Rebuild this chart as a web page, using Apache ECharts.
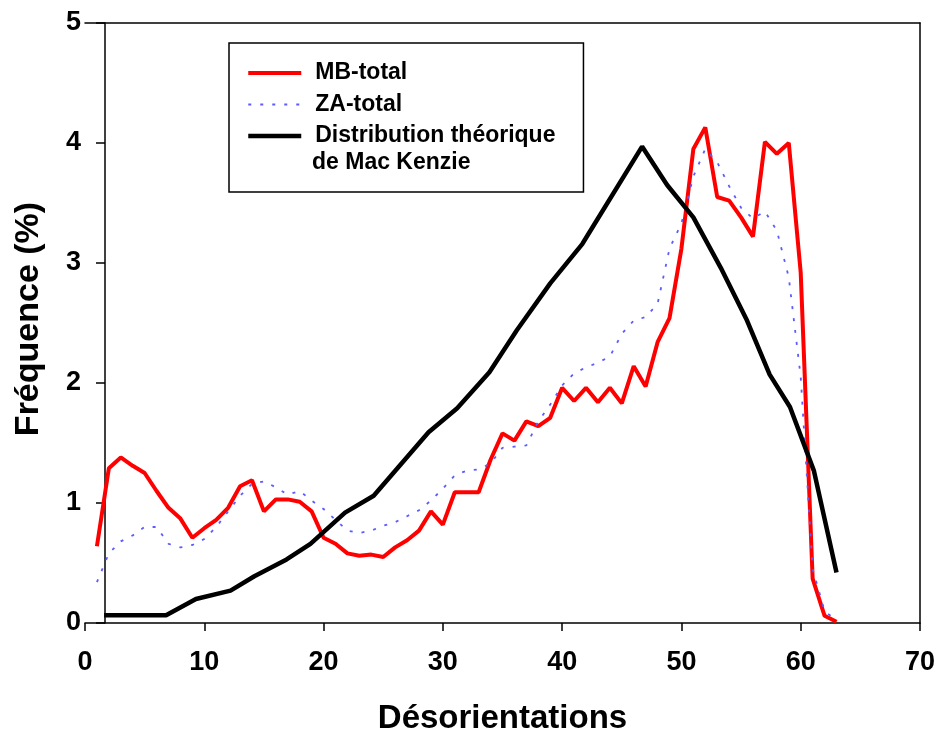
<!DOCTYPE html>
<html>
<head>
<meta charset="utf-8">
<title>Désorientations</title>
<script src="https://cdn.jsdelivr.net/npm/echarts@6.0.0/dist/echarts.min.js"></script>
<style>
  html, body { margin: 0; padding: 0; background: #fff; }
  #chart { width: 939px; height: 733px; }
</style>
</head>
<body>
<div id="chart"></div>
<script>
// désorientation (°) pour les deux séries mesurées
const angles = [
  1, 2, 3, 4, 5, 6, 7, 8, 9, 10,
  11, 12, 13, 14, 15, 16, 17, 18, 19, 20,
  21, 22, 23, 24, 25, 26, 27, 28, 29, 30,
  31, 32, 33, 34, 35, 36, 37, 38, 39, 40,
  41, 42, 43, 44, 45, 46, 47, 48, 49, 50,
  51, 52, 53, 54, 55, 56, 57, 58, 59, 60,
  61, 62, 63
]
// MB-total (%)
const mbTotal = [
  0.64, 1.29, 1.38, 1.31, 1.25, 1.10, 0.96, 0.87, 0.71, 0.79,
  0.86, 0.96, 1.14, 1.19, 0.93, 1.03, 1.03, 1.01, 0.93, 0.71,
  0.66, 0.58, 0.56, 0.57, 0.55, 0.63, 0.69, 0.77, 0.93, 0.82,
  1.09, 1.09, 1.09, 1.36, 1.58, 1.52, 1.68, 1.64, 1.71, 1.96,
  1.85, 1.96, 1.84, 1.96, 1.83, 2.14, 1.97, 2.34, 2.54, 3.12,
  3.95, 4.13, 3.55, 3.52, 3.38, 3.22, 4.01, 3.91, 4.00, 2.92,
  0.37, 0.06, 0.01
]
// ZA-total (%)
const zaTotal = [
  0.34, 0.58, 0.68, 0.73, 0.80, 0.80, 0.66, 0.63, 0.65, 0.70,
  0.80, 0.93, 1.06, 1.16, 1.18, 1.13, 1.07, 1.10, 1.02, 0.95,
  0.86, 0.77, 0.75, 0.77, 0.81, 0.84, 0.89, 0.94, 1.02, 1.12,
  1.23, 1.27, 1.28, 1.33, 1.46, 1.47, 1.48, 1.68, 1.82, 1.98,
  2.08, 2.13, 2.17, 2.22, 2.41, 2.52, 2.55, 2.66, 3.12, 3.33,
  3.72, 3.95, 3.84, 3.64, 3.46, 3.37, 3.43, 3.27, 2.88, 2.05,
  0.45, 0.10, 0.02
]
// distribution théorique de Mac Kenzie
const mkAngles = [1.6, 6.8, 9.3, 12.2, 14.2, 16.9, 18.9, 21.8, 24.2, 28.8, 31.2, 33.9,
  36.2, 39.0, 41.7, 46.7, 48.8, 51.0, 53.3, 55.5, 57.4, 59.1, 61.1, 63.0]
const mkFreq = [0.065, 0.065, 0.20, 0.27, 0.39, 0.53, 0.66, 0.92, 1.06, 1.59, 1.79, 2.09,
  2.44, 2.83, 3.16, 3.97, 3.65, 3.38, 2.96, 2.52, 2.07, 1.80, 1.27, 0.42]

const seriesNames = ['MB-total', 'ZA-total', 'Distribution théorique de Mac Kenzie']

const FONT = '"Liberation Sans", Arial, sans-serif'

const pairs = (xs, ys) => xs.map((x, i) => [x, ys[i]])

const chart = echarts.init(document.getElementById('chart'))

const option = {
  animation: false,
  backgroundColor: '#fff',
  // cadre fixe, sans recalage automatique sur les libellés
  grid: { left: 85, right: 19, top: 23, bottom: 110, outerBoundsMode: 'none', containLabel: false },
  legend: {
    orient: 'vertical',
    left: 229,
    top: 43,
    padding: [16, 28, 42, 17],
    borderColor: '#000',
    borderWidth: 1.5,
    itemWidth: 53,
    itemHeight: 14,
    itemGap: 3.5,
    // pas de symbole dans la légende, seulement le trait
    itemStyle: { opacity: 0 },
    data: [
      { name: seriesNames[0], lineStyle: { width: 4 } },
      { name: seriesNames[1], lineStyle: { width: 1.8 } },
      { name: seriesNames[2], lineStyle: { width: 4.5 } }
    ],
    // la deuxième ligne du nom est écrite à part (graphic) pour garder l'icône sur la 1re ligne
    formatter: name => name === seriesNames[2] ? 'Distribution théorique' : name,
    textStyle: {
      fontFamily: FONT, fontWeight: 'bold', fontSize: 23, color: '#000',
      lineHeight: 28, padding: [0, 0, 0, 9]
    }
  },
  graphic: [{
    type: 'text',
    x: 312,
    y: 163,
    z: 100,
    style: {
      text: 'de Mac Kenzie',
      font: 'bold 23px ' + FONT,
      fill: '#000',
      verticalAlign: 'middle'
    }
  }],
  xAxis: [{
    type: 'value',
    min: 0, max: 70, interval: 10,
    name: 'Désorientations',
    nameLocation: 'middle',
    nameGap: 79,
    nameTextStyle: { fontFamily: FONT, fontWeight: 'bold', fontSize: 33, color: '#000' },
    axisLine: { onZero: false, lineStyle: { color: '#000', width: 1.5 } },
    axisTick: { length: 8, lineStyle: { color: '#000', width: 1.5 } },
    axisLabel: { margin: 26, fontFamily: FONT, fontWeight: 'bold', fontSize: 27, color: '#000' },
    splitLine: { show: false }
  }, {
    // bord supérieur du cadre
    type: 'value', position: 'top',
    min: 0, max: 70,
    axisLine: { show: true, onZero: false, lineStyle: { color: '#000', width: 1.5 } },
    axisTick: { show: false }, axisLabel: { show: false }, splitLine: { show: false }
  }],
  yAxis: [{
    type: 'value',
    min: 0, max: 5, interval: 1,
    offset: -20,
    name: 'Fréquence (%)',
    nameLocation: 'middle',
    nameGap: 59,
    nameTextStyle: { fontFamily: FONT, fontWeight: 'bold', fontSize: 34, color: '#000', padding: [0, 0, 0, 8] },
    axisLine: { show: true, onZero: false, lineStyle: { color: '#000', width: 1.5 } },
    axisTick: { show: true, length: 9, lineStyle: { color: '#000', width: 1.5 } },
    axisLabel: { margin: 24, fontFamily: FONT, fontWeight: 'bold', fontSize: 27, color: '#000' },
    splitLine: { show: false }
  }, {
    // bord droit du cadre
    type: 'value', position: 'right',
    min: 0, max: 5,
    axisLine: { show: true, onZero: false, lineStyle: { color: '#000', width: 1.5 } },
    axisTick: { show: false }, axisLabel: { show: false }, splitLine: { show: false }
  }],
  series: [{
    name: seriesNames[0],
    type: 'line',
    data: pairs(angles, mbTotal),
    symbol: 'none',
    itemStyle: { color: '#ff0000' },
    lineStyle: { color: '#ff0000', width: 4 }
  }, {
    name: seriesNames[1],
    type: 'line',
    data: pairs(angles, zaTotal),
    symbol: 'none',
    itemStyle: { color: '#5c5cff' },
    lineStyle: { color: '#5c5cff', width: 1.8, type: [3, 9] }
  }, {
    name: seriesNames[2],
    type: 'line',
    data: pairs(mkAngles, mkFreq),
    symbol: 'none',
    itemStyle: { color: '#000' },
    lineStyle: { color: '#000', width: 4.5 }
  }]
}

chart.setOption(option)
</script>
</body>
</html>
